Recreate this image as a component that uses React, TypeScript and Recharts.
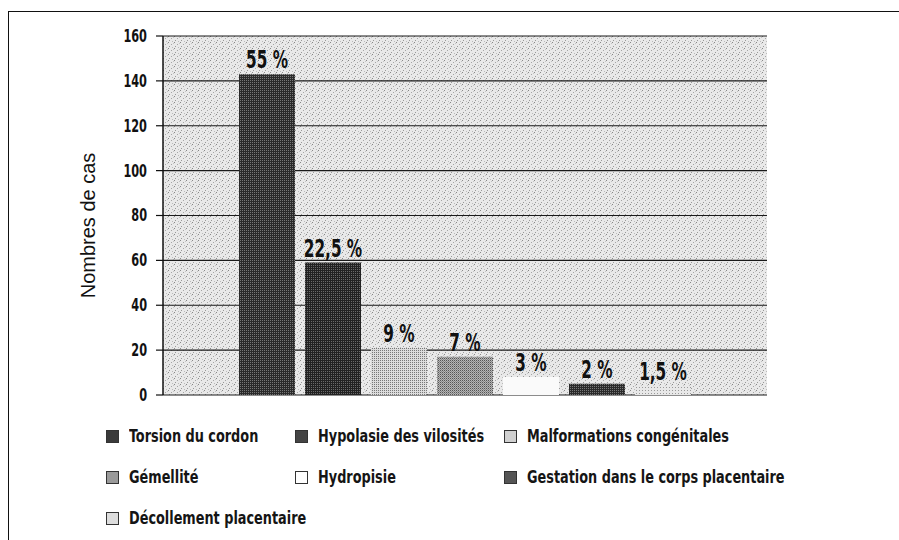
import React from 'react';
import {
  BarChart, Bar, XAxis, YAxis, CartesianGrid, LabelList
} from 'recharts';

// Series (one per cause), as in the original one-category column chart
const causes = [
  'Torsion du cordon',
  'Hypolasie des vilosités',
  'Malformations congénitales',
  'Gémellité',
  'Hydropisie',
  'Gestation dans le corps placentaire',
  'Décollement placentaire',
];
const cases = [143, 59, 21, 17, 8, 5, 4];
const percentLabels = ['55 %', '22,5 %', '9 %', '7 %', '3 %', '2 %', '1,5 %'];
const yTicks = [0, 20, 40, 60, 80, 100, 120, 140, 160];

// fills: pattern ids used in the chart, flat grays for the legend squares
const patternIds = ['pDark', 'pDark2', 'pLight', 'pMid', 'pWhite', 'pDark', 'pPale'];
const swatchColors = ['#3a3a3a', '#444', '#d0d0d0', '#9a9a9a', '#fff', '#555', '#ddd'];

const COND = "'DejaVu Sans Condensed', 'DejaVu Sans', sans-serif";

// legend grid positions (3 columns, 3 rows)
const legendCols = [106, 295, 504];
const legendRows = [436, 477, 518];

const chartData = [
  causes.reduce((row: any, name, i) => {
    row['s' + i] = cases[i];
    return row;
  }, { name: 'causes' }),
];

// narrow bold text: the scan uses a condensed face, so squeeze horizontally
const NarrowTick = (props: any) => {
  const { x, y, payload } = props;
  return (
    <text
      transform={`translate(${x},${y}) scale(0.74,1)`}
      textAnchor="end"
      dy="0.35em"
      fill="#111"
      fontSize={17}
      fontWeight={700}
      fontFamily={COND}
    >
      {payload.value}
    </text>
  );
};

const makePctLabel = (i: number) => (props: any) => {
  const { x, y, width } = props;
  const cx = Number(x) + Number(width) / 2;
  return (
    <text
      transform={`translate(${cx},${Number(y) - 6}) scale(0.68,1)`}
      textAnchor="middle"
      fill="#111"
      fontSize={25}
      fontWeight={700}
      fontFamily={COND}
    >
      {percentLabels[i]}
    </text>
  );
};

const AxisTitle = (props: any) => {
  const { viewBox } = props;
  const x = viewBox.x - 15;
  const y = viewBox.y + viewBox.height / 2 + 10;
  return (
    <text
      transform={`translate(${x},${y}) rotate(-90)`}
      textAnchor="middle"
      dy="0.35em"
      fill="#111"
      fontSize={20}
      fontFamily="'Liberation Sans', Arial, sans-serif"
    >
      Nombres de cas
    </text>
  );
};

export default function App() {
  return (
    <div style={{ position: 'absolute', left: 0, top: 0, width: 899, height: 540, background: '#fff', overflow: 'hidden' }}>
      {/* page frame (only top + left edges visible in the scan) */}
      <div style={{ position: 'absolute', left: 8, top: 11, width: 891, height: 529, borderTop: '1.5px solid #111', borderLeft: '1.5px solid #111' }} />

      <div style={{ position: 'absolute', left: 0, top: 0 }}>
        <BarChart
          width={899}
          height={540}
          data={chartData}
          margin={{ top: 36, right: 132, bottom: 145, left: 103 }}
          barCategoryGap={76}
          barGap={10}
        >
          <defs>
            <pattern id="pBg" width="6" height="6" patternUnits="userSpaceOnUse">
              <rect width="6" height="6" fill="#e9e9e9" />
              <rect x="0" y="0" width="1" height="1" fill="#888" />
              <rect x="3" y="2" width="1" height="1" fill="#a5a5a5" />
              <rect x="1" y="4" width="1" height="1" fill="#999" />
              <rect x="4" y="5" width="1" height="1" fill="#bbb" />
              <rect x="5" y="1" width="1" height="1" fill="#c4c4c4" />
            </pattern>
            <pattern id="pDark" width="2" height="2" patternUnits="userSpaceOnUse">
              <rect width="2" height="2" fill="#2a2a2a" />
              <rect x="0" y="0" width="1" height="1" fill="#777" />
            </pattern>
            <pattern id="pDark2" width="2" height="2" patternUnits="userSpaceOnUse">
              <rect width="2" height="2" fill="#222" />
              <rect x="1" y="1" width="1" height="1" fill="#6a6a6a" />
            </pattern>
            <pattern id="pLight" width="2" height="2" patternUnits="userSpaceOnUse">
              <rect width="2" height="2" fill="#dcdcdc" />
              <rect x="0" y="0" width="1" height="1" fill="#777" />
            </pattern>
            <pattern id="pMid" width="2" height="2" patternUnits="userSpaceOnUse">
              <rect width="2" height="2" fill="#b5b5b5" />
              <rect x="0" y="0" width="1" height="1" fill="#555" />
              <rect x="1" y="1" width="1" height="1" fill="#888" />
            </pattern>
            <pattern id="pWhite" width="2" height="2" patternUnits="userSpaceOnUse">
              <rect width="2" height="2" fill="#fafafa" />
            </pattern>
            <pattern id="pPale" width="3" height="3" patternUnits="userSpaceOnUse">
              <rect width="3" height="3" fill="#e8e8e8" />
              <rect x="0" y="0" width="1" height="1" fill="#999" />
            </pattern>
          </defs>

          <CartesianGrid
            vertical={false}
            stroke="#1a1a1a"
            strokeWidth={1.2}
            fill="url(#pBg)"
            fillOpacity={1}
          />
          <XAxis dataKey="name" tick={false} tickLine={false} height={0} axisLine={{ stroke: '#111', strokeWidth: 2 }} />
          <YAxis
            domain={[0, 160]}
            ticks={yTicks}
            width={60}
            tickSize={7}
            tickMargin={9}
            axisLine={{ stroke: '#111', strokeWidth: 1.5 }}
            tickLine={{ stroke: '#111', strokeWidth: 1.2 }}
            tick={<NarrowTick />}
            label={<AxisTitle />}
          />
          <YAxis
            yAxisId="frame"
            orientation="right"
            domain={[0, 160]}
            width={0}
            tick={false}
            tickLine={false}
            axisLine={{ stroke: '#111', strokeWidth: 1.5 }}
          />

          {causes.map((cause, i) => (
            <Bar
              key={cause}
              dataKey={'s' + i}
              name={cause}
              fill={`url(#${patternIds[i]})`}
              isAnimationActive={false}
            >
              <LabelList dataKey={'s' + i} content={makePctLabel(i)} />
            </Bar>
          ))}
        </BarChart>
      </div>

      {/* LEGEND */}
      {causes.map((cause, i) => (
        <div
          key={cause}
          style={{
            position: 'absolute',
            left: legendCols[i % 3],
            top: legendRows[Math.floor(i / 3)] - 11,
            height: 22,
            display: 'flex',
            alignItems: 'center',
            whiteSpace: 'nowrap',
            fontFamily: COND,
            fontWeight: 700,
            fontSize: 17,
            color: '#151515',
          }}
        >
          <span
            style={{
              display: 'inline-block',
              width: 11,
              height: 11,
              border: '1px solid #333',
              background: swatchColors[i],
              marginRight: 10,
            }}
          />
          <span style={{ display: 'inline-block', transform: 'scaleX(0.84)', transformOrigin: 'left center' }}>
            {cause}
          </span>
        </div>
      ))}
    </div>
  );
}
